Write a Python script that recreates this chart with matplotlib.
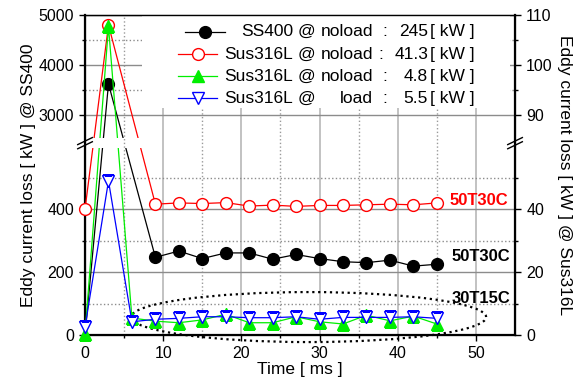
import numpy as np
import matplotlib
matplotlib.use('Agg')
from matplotlib import pyplot as plt
from matplotlib.lines import Line2D
from matplotlib.patches import Ellipse, Rectangle
from matplotlib.path import Path

plt.rcParams['font.family'] = ['Liberation Sans', 'DejaVu Sans']

# ---------------------------------
# DATA
# ---------------------------------
# SS400 @ noload, left axis [kW]
t_ss400 = [0, 3, 9, 12, 15, 18, 21, 24, 27, 30, 33, 36, 39, 42, 45]
ss400 = [0, 3620, 247, 267, 243, 261, 261, 241, 256, 243, 233, 230, 238, 219, 225]

# Sus316L, right axis [kW]
t_sus_red = [0, 3, 9, 12, 15, 18, 21, 24, 27, 30, 33, 36, 39, 42, 45]
sus_noload_50 = [40, 108, 41.6, 42.0, 41.8, 42.1, 41.0, 41.3, 40.9, 41.2, 41.2, 41.4, 41.6, 41.4, 42.0]

t_sus = [0, 3, 6, 9, 12, 15, 18, 21, 24, 27, 30, 33, 36, 39, 42, 45]
sus_noload_30 = [0.3, 107.7, 5.4, 4.4, 3.9, 4.8, 6.6, 3.9, 3.9, 5.8, 4.2, 3.5, 6.3, 4.5, 6.0, 3.5]
sus_load_30 = [2.5, 49, 4.2, 5.0, 5.3, 5.8, 5.8, 5.5, 5.5, 5.8, 5.0, 5.6, 5.6, 5.6, 5.8, 5.3]

# legend columns
leg_names = ['SS400', 'Sus316L', 'Sus316L', 'Sus316L']
leg_state = ['noload', 'noload', 'noload', 'load']
leg_power = ['245', '41.3', '4.8', '5.5']

# ticks
left_major = [0, 200, 400, 3000, 4000, 5000]
left_minor = [100, 300, 500, 3500, 4500]
right_major = [0, 20, 40, 90, 100, 110]
right_minor = [10, 30, 50, 95, 105]


# broken axis as a piecewise linear scale
def fwd_left(v):
    v = np.asarray(v, float)
    return np.where(v <= 500, v,
                    np.where(v <= 3000, 500 + (v - 500) * 0.08, 700 + (v - 3000) * 0.15875))


def inv_left(u):
    u = np.asarray(u, float)
    return np.where(u <= 500, u,
                    np.where(u <= 700, 500 + (u - 500) / 0.08, 3000 + (u - 700) / 0.15875))


def fwd_right(v):
    v = np.asarray(v, float)
    return np.where(v <= 50, v * 10,
                    np.where(v <= 90, 500 + (v - 50) * 5, 700 + (v - 90) * 15.875))


def inv_right(u):
    u = np.asarray(u, float)
    return np.where(u <= 500, u / 10,
                    np.where(u <= 700, 50 + (u - 500) / 5, 90 + (u - 700) / 15.875))


fig, ax = plt.subplots(figsize=(5.8, 3.79), dpi=100)
fig.subplots_adjust(left=0.1466, right=0.888, bottom=0.1161, top=0.9604)
ax2 = ax.twinx()

ax.set_yscale('function', functions=(fwd_left, inv_left))
ax2.set_yscale('function', functions=(fwd_right, inv_right))

# clip path with a white gap at the break (axes coords)
b_lo, b_hi = 0.583, 0.615
verts = [(-0.2, -0.2), (1.2, -0.2), (1.2, b_lo), (-0.2, b_lo), (-0.2, -0.2),
         (-0.2, b_hi), (1.2, b_hi), (1.2, 1.2), (-0.2, 1.2), (-0.2, b_hi)]
codes = [Path.MOVETO, Path.LINETO, Path.LINETO, Path.LINETO, Path.CLOSEPOLY] * 2
gap_path = Path(verts, codes)


def gapped(line, axis):
    line.set_clip_path(gap_path, axis.transAxes)
    line.set_clip_box(None)


ms = 8.5
l1, = ax.plot(t_ss400, ss400, color='black', lw=0.9, marker='o', ms=ms,
              markevery=list(range(1, len(t_ss400))), zorder=3)
gapped(l1, ax)

l2, = ax2.plot(t_sus_red, sus_noload_50, color='red', lw=0.9, marker='o', ms=ms,
               mfc='white', mec='red', mew=1.0, zorder=3)
l3, = ax2.plot(t_sus, sus_noload_30, color='#00ee00', lw=0.9, marker='^', ms=ms,
               mfc='#00ee00', mec='#00ee00', zorder=4)
l4, = ax2.plot(t_sus, sus_load_30, color='blue', lw=0.9, marker='v', ms=ms + 0.5,
               mfc='white', mec='blue', mew=1.0, zorder=5)
for ln in (l2, l3, l4):
    gapped(ln, ax2)

# limits and ticks
ax.set_xlim(0, 55)
ax.set_ylim(0, 5000)
ax2.set_ylim(0, 110)
ax.set_xticks(range(0, 51, 10))
ax.set_xticks(range(5, 55, 10), minor=True)
ax.set_yticks(left_major)
ax.set_yticks(left_minor, minor=True)
ax2.set_yticks(right_major)
ax2.set_yticks(right_minor, minor=True)

ax.tick_params(which='major', direction='out', length=4.5, width=1, labelsize=11.5, right=False)
ax.tick_params(which='minor', direction='out', length=2.5, width=1, right=False)
ax2.tick_params(which='major', direction='out', length=4.5, width=1, labelsize=11.5, left=False)
ax2.tick_params(which='minor', direction='out', length=2.5, width=1, left=False)

# grid
ax.set_axisbelow(True)
ax.grid(axis='x', which='major', color='#bdbdbd', lw=1.3, ls='-')
ax.grid(axis='x', which='minor', color='#9a9a9a', lw=1.0, ls=':')
ax.grid(axis='y', which='major', color='#8c8c8c', lw=1.0, ls='-')
ax.grid(axis='y', which='minor', color='#8c8c8c', lw=1.0, ls=':')

for sp in ('left', 'right', 'bottom'):
    ax2.spines[sp].set_linewidth(1.6)
ax2.spines['top'].set_linewidth(1.0)

# break marks
for axis_x in (0.0, 1.0):
    for yc in (0.593, 0.606):
        ax2.plot([axis_x - 0.017, axis_x + 0.017], [yc - 0.011, yc + 0.011],
                 color='black', lw=1.0, transform=ax2.transAxes, clip_on=False, zorder=6)

# labels
ax.set_xlabel('Time [ ms ]', fontsize=12.5, labelpad=1)
ax.set_ylabel('Eddy current loss [ kW ] @ SS400', fontsize=12.5, labelpad=2)
ax2.set_ylabel('Eddy current loss [ kW ] @ Sus316L', fontsize=12.5, rotation=-90, labelpad=14)

# dotted ellipse around the 30T15C series
ell = Ellipse((28.6, 5.7), width=45.4, height=15.9, fill=False, ls=':', lw=1.6,
              color='black', transform=ax2.transData, clip_on=False, zorder=2)
ax2.add_patch(ell)

ax2.text(46.6, 42.9, '50T30C', color='red', fontsize=12, fontweight='bold', va='center', zorder=7)
ax2.text(46.9, 25.1, '50T30C', color='black', fontsize=12, fontweight='bold', va='center', zorder=7)
ax2.text(46.9, 11.7, '30T15C', color='black', fontsize=12, fontweight='bold', va='center', zorder=7)

# hand made legend
ax2.add_patch(Rectangle((0.1326, 0.709), 0.855, 0.29, transform=ax2.transAxes,
                        facecolor='white', edgecolor='none', zorder=2.5))
handles = [l1, l2, l3, l4]
rows_y = [0.948, 0.878, 0.809, 0.740]
for i, (h, yy) in enumerate(zip(handles, rows_y)):
    x0, x1 = (0.2326, 0.3256) if i == 0 else (0.2163, 0.3070)
    ax2.add_line(Line2D([x0, x1], [yy, yy], color=h.get_color(), lw=0.9,
                        transform=ax2.transAxes, zorder=8))
    ax2.add_line(Line2D([(x0 + x1) / 2], [yy], marker=h.get_marker(), ms=h.get_markersize(),
                        mfc=h.get_markerfacecolor(), mec=h.get_markeredgecolor(),
                        mew=h.get_markeredgewidth(), ls='none',
                        transform=ax2.transAxes, zorder=8))
    kw = dict(transform=ax2.transAxes, fontsize=12.5, va='center', zorder=8)
    ax2.text(0.4837, yy, leg_names[i], ha='right', **kw)
    ax2.text(0.4953, yy, '@', ha='left', **kw)
    ax2.text(0.6698, yy, leg_state[i], ha='right', **kw)
    ax2.text(0.688 if i == 1 else 0.6977, yy, ':', ha='center', **kw)
    ax2.text(0.7977, yy, leg_power[i], ha='right', **kw)
    ax2.text(0.8023, yy, '[ kW ]', ha='left', **kw)

fig.savefig('out.png', dpi=100)
